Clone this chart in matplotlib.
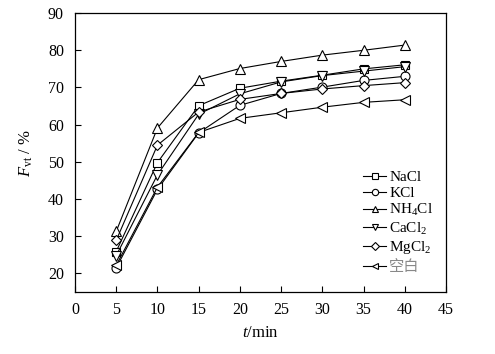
import matplotlib
matplotlib.use("Agg")
import matplotlib.pyplot as plt

plt.rcParams['font.family'] = ['Liberation Serif', 'Noto Sans CJK SC']
plt.rcParams['mathtext.fontset'] = 'custom'
plt.rcParams['mathtext.rm'] = 'Liberation Serif'
plt.rcParams['mathtext.it'] = 'Liberation Serif:italic'

t = [5, 10, 15, 20, 25, 30, 35, 40]
nacl = [25.9, 49.8, 65.1, 69.8, 71.7, 73.3, 75.0, 76.1]
kcl = [21.5, 42.6, 57.8, 65.2, 68.4, 70.1, 71.9, 73.0]
nh4cl = [31.3, 59.1, 72.1, 75.1, 77.0, 78.7, 80.0, 81.4]
cacl2 = [24.8, 46.5, 62.8, 68.3, 71.5, 73.2, 74.4, 75.6]
mgcl2 = [28.9, 54.5, 63.4, 66.8, 68.4, 69.6, 70.5, 71.3]
blank = [22.2, 43.2, 57.9, 61.7, 63.2, 64.7, 66.0, 66.7]

labels = ['NaCl', 'KCl', r'NH$_4$Cl', r'CaCl$_2$', r'MgCl$_2$', '空白']
series = [nacl, kcl, nh4cl, cacl2, mgcl2, blank]
markers = ['s', 'o', '^', 'v', 'D', '<']
msizes = [6, 6.5, 7, 7, 5.5, 7]

fig = plt.figure(figsize=(4.95, 3.54), dpi=100)
ax = fig.add_axes([0.1515, 0.175, 0.7495, 0.788])

for y, lab, m, ms in zip(series, labels, markers, msizes):
    ax.plot(t, y, color='black', lw=0.8, marker=m, ms=ms,
            mfc='white', mec='black', mew=0.8, label=lab)

ax.set_xlim(0, 45)
ax.set_ylim(15, 90)
ax.set_xticks(range(0, 46, 5))
ax.set_yticks(range(20, 91, 10))
ax.tick_params(direction='in', length=4, width=0.8, labelsize=11.5, top=False, right=False)
ax.tick_params(axis='x', pad=7)
ax.tick_params(axis='y', pad=8)
for s in ax.spines.values():
    s.set_linewidth(0.9)

ax.set_xlabel(r'$t$/min', fontsize=12, labelpad=5)
ax.set_ylabel(r'$F_{\mathrm{vt}}$ / %', fontsize=12, labelpad=9)

leg = ax.legend(loc='lower right', bbox_to_anchor=(0.99, 0.027), frameon=False,
                fontsize=11, handlelength=1.5, handletextpad=0.2,
                labelspacing=0.15, borderaxespad=0.2, markerscale=0.7)
for txt in leg.get_texts():
    if txt.get_text() == '空白':
        txt.set_color('#888888')
        txt.set_fontfamily(['Noto Sans CJK SC'])

fig.savefig('out.png', dpi=100)
